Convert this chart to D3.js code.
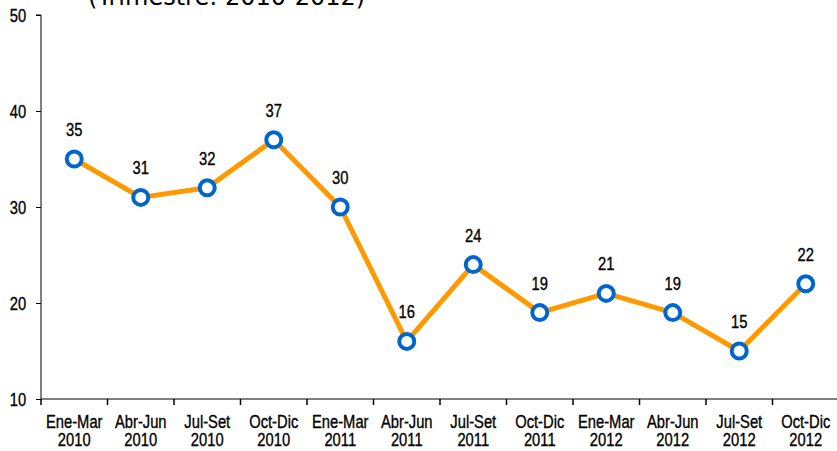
<!DOCTYPE html>
<html>
<head>
<meta charset="utf-8">
<script src="https://cdn.jsdelivr.net/npm/d3@7"></script>
<style>
  body { margin: 0; background: #fff; }
  svg { display: block; }
</style>
</head>
<body>
<svg id="chart" width="837" height="451"></svg>
<script>
// Quarterly series, 2010-2012
const periods = ["Ene-Mar", "Abr-Jun", "Jul-Set", "Oct-Dic", "Ene-Mar", "Abr-Jun", "Jul-Set", "Oct-Dic", "Ene-Mar", "Abr-Jun", "Jul-Set", "Oct-Dic"];
const years = ["2010", "2010", "2010", "2010", "2011", "2011", "2011", "2011", "2012", "2012", "2012", "2012"];
const values = [35, 31, 32, 37, 30, 16, 24, 19, 21, 19, 15, 22];
const yTicks = [10, 20, 30, 40, 50];
const titleText = "(Trimestre: 2010-2012)";

// Condensed look: regular sans squeezed horizontally
const sans = "'Liberation Sans', Arial, sans-serif";
const squeeze = 0.82;
const svg = d3.select("#chart");

const plotLeft = 41, plotRight = 839, plotTop = 15, plotBottom = 399;
const keys = d3.range(values.length);

const x = d3.scaleBand().domain(keys).range([plotLeft, plotRight]).padding(0);
const y = d3.scaleLinear().domain([10, 50]).range([plotBottom, plotTop]);
const cx = d => x(d) + x.bandwidth() / 2;

function textStyle(sel, size) {
  sel.attr("font-family", sans).attr("font-size", size)
    .attr("fill", "#000").attr("stroke", "#000").attr("stroke-width", 0.35);
}

// Title (partly above the visible area)
svg.append("text")
  .attr("x", 88).attr("y", 5)
  .attr("font-family", "'DejaVu Sans', Verdana, sans-serif")
  .attr("font-size", 24)
  .attr("fill", "#000")
  .text(titleText);

// Y axis
const yAxis = svg.append("g")
  .attr("transform", `translate(${plotLeft},0)`)
  .call(d3.axisLeft(y).tickValues(yTicks).tickSize(5).tickPadding(5).tickFormat(d3.format("d")));
yAxis.select(".domain").attr("stroke", "#000").attr("d", `M-5,${plotTop}H0V${plotBottom}`);
yAxis.selectAll(".tick line").attr("stroke", "#000");
yAxis.selectAll(".tick text")
  .call(textStyle, 18)
  .attr("x", null).attr("dy", null)
  .attr("transform", `translate(-23,6.5) scale(${squeeze},1)`)
  .attr("text-anchor", "middle");

// X axis with boundary ticks between categories
const xAxisG = svg.append("g").attr("transform", `translate(0,${plotBottom})`);
xAxisG.append("line")
  .attr("x1", plotLeft).attr("x2", plotRight).attr("y1", 0).attr("y2", 0)
  .attr("stroke", "#000");
const bounds = keys.map(d => x(d)).concat([x(values.length - 1) + x.bandwidth()]);
xAxisG.selectAll("line.bound")
  .data(bounds)
  .join("line")
  .attr("class", "bound")
  .attr("x1", d => d).attr("x2", d => d)
  .attr("y1", 0).attr("y2", 6)
  .attr("stroke", "#000").attr("stroke-width", 1.5);

const cat = xAxisG.selectAll("g.cat")
  .data(keys)
  .join("g")
  .attr("class", "cat")
  .attr("transform", d => `translate(${cx(d)},0) scale(${squeeze},1)`);
cat.append("text")
  .attr("y", 29.5)
  .attr("text-anchor", "middle")
  .call(textStyle, 18)
  .text(d => periods[d]);
cat.append("text")
  .attr("y", 47.5)
  .attr("text-anchor", "middle")
  .call(textStyle, 18)
  .text(d => years[d]);

// Line
const line = d3.line().x(d => cx(d)).y(d => y(values[d]));
svg.append("path")
  .datum(keys)
  .attr("d", line)
  .attr("fill", "none")
  .attr("stroke", "#FF9900")
  .attr("stroke-width", 5)
  .attr("stroke-linejoin", "round");

// Markers
svg.selectAll("circle.pt")
  .data(keys)
  .join("circle")
  .attr("class", "pt")
  .attr("cx", cx).attr("cy", d => y(values[d]))
  .attr("r", 7.5)
  .attr("fill", "#fff")
  .attr("stroke", "#0066CC")
  .attr("stroke-width", 4);

// Value labels
svg.selectAll("text.val")
  .data(keys)
  .join("text")
  .attr("class", "val")
  .attr("transform", d => `translate(${cx(d)},${y(values[d]) - 23}) scale(${squeeze},1)`)
  .attr("text-anchor", "middle")
  .call(textStyle, 18)
  .text(d => values[d]);
</script>
</body>
</html>
